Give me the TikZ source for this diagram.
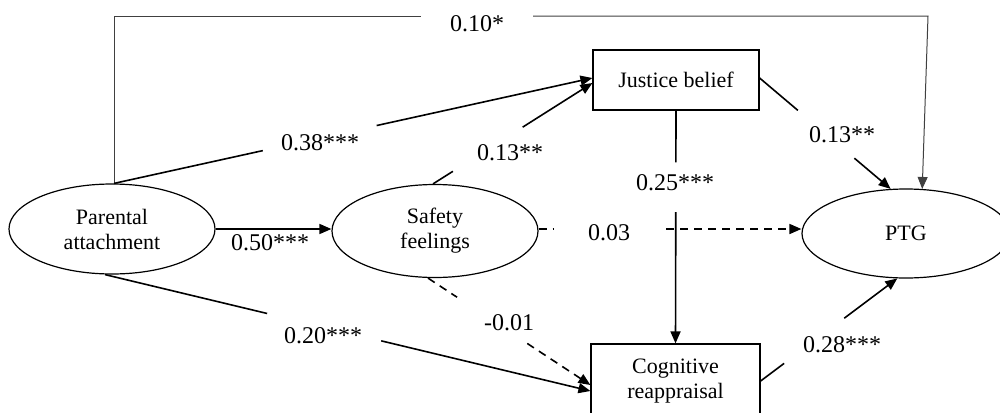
\documentclass[tikz,border=0pt]{standalone}
\usepackage{fontspec}
\setmainfont{Liberation Serif}
\usetikzlibrary{shapes.geometric,arrows.meta}
\begin{document}
\begin{tikzpicture}[x=0.5pt,y=-0.5pt,
  latent/.style={ellipse,draw,line width=0.6pt,inner sep=0pt,minimum width=103pt,minimum height=45pt,align=center,font=\fontsize{11}{12.5}\selectfont},
  obs/.style={rectangle,draw,line width=0.6pt,inner sep=0pt,align=center,font=\fontsize{11}{12.5}\selectfont},
  link/.style={line width=0.8pt},
  tip/.style={-{Triangle[length=6pt,width=5pt]}},
  arrowline/.style={link,tip},
  dsh/.style={dash pattern=on 4pt off 3pt},
  thinlink/.style={line width=0.5pt,draw=black!75},
  coef/.style={font=\fontsize{12}{14}\selectfont,inner sep=0pt}]
\useasboundingbox (0,0) rectangle (1000,412);

% nodes
\node[latent,minimum height=45pt] (PA) at (112,229) {Parental\\attachment};
\node[latent,minimum height=46.5pt] (SF) at (435,231) {Safety\\feelings};
\node[latent,minimum width=104pt,minimum height=44.5pt] (PTG) at (906,233.5) {PTG};
\node[obs,minimum width=83pt,minimum height=30pt] (JB) at (676,80) {Justice belief};
\node[obs,minimum width=84.5pt,minimum height=37pt] (CR) at (675.5,381) {Cognitive\\reappraisal};

% labels
\node[coef] (l10) at (477,24) {0.10*};
\node[coef] (l38) at (320,143) {0.38***};
\node[coef] (l13a) at (510,153) {0.13**};
\node[coef] (l50) at (270,243) {0.50***};
\node[coef] (l20) at (323,336) {0.20***};
\node[coef] (l01) at (509,323) {-0.01};
\node[coef] (l03) at (609,233) {0.03};
\node[coef] (l25) at (675,183) {0.25***};
\node[coef] (l13b) at (842,135) {0.13**};
\node[coef] (l28) at (842,345) {0.28***};

% 0.10* : Parental attachment -> PTG (over the top)
\coordinate (pa1) at ([xshift=1pt]PA.north);
\coordinate (t1) at (421,16);
\coordinate (t2) at (533,16);
\coordinate (t3) at (928,16);
\draw[thinlink] (pa1) |- (t1);
\draw[thinlink,tip] (t2) -- (t3) -- (PTG.70);

% 0.38*** : PA -> JB
\coordinate (jb1) at ([yshift=1pt]JB.west);
\path (pa1) -- (jb1) coordinate[pos=0.311] (a1) coordinate[pos=0.549] (a2);
\draw[link] (pa1) -- (a1);
\draw[arrowline] (a2) -- (jb1);

% 0.13** : SF -> JB
\coordinate (sf1) at ([xshift=-1pt]SF.north);
\coordinate (jb2) at ([yshift=-1.5pt]JB.west);
\path (sf1) -- (jb2) coordinate[pos=0.125] (b1) coordinate[pos=0.5625] (b2);
\draw[link] (sf1) -- (b1);
\draw[arrowline] (b2) -- (jb2);

% 0.50*** : PA -> SF
\draw[arrowline] (PA.east) -- (PA.east -| SF.west);

% 0.20*** : PA -> CR
\coordinate (pa2) at ([xshift=-3.5pt]PA.south);
\coordinate (cr1) at ([yshift=-5pt]CR.west);
\path (pa2) -- (cr1) coordinate[pos=0.334] (c1) coordinate[pos=0.569] (c2);
\draw[link] (pa2) -- (c1);
\draw[arrowline] (c2) -- (cr1);

% -0.01 : SF -> CR (dashed)
\coordinate (sf2) at ([xshift=-3.5pt]SF.south);
\coordinate (cr2) at ([yshift=-2pt]CR.west);
\path (sf2) -- (cr2) coordinate[pos=0.179] (d1) coordinate[pos=0.611] (d2);
\draw[link,dsh] (sf2) -- (d1);
\draw[arrowline,dsh] (d2) -- (cr2);

% 0.03 : SF -> PTG (dashed)
\coordinate (sf3) at ([yshift=1pt]SF.east);
\coordinate (ptg1) at (sf3 -| PTG.west);
\path (sf3) -- (ptg1) coordinate[pos=0.057] (e1) coordinate[pos=0.485] (e2);
\draw[link,dsh] (sf3) -- (e1);
\draw[arrowline,dsh] (e2) -- (ptg1);

% 0.25*** : JB -> CR
\path (JB.south) -- (CR.north) coordinate[pos=0.222] (f1) coordinate[pos=0.436] (f2);
\draw[link] (JB.south) -- (f1);
\draw[arrowline] (f2) -- (CR.north);

% 0.13** : JB -> PTG
\coordinate (jb3) at ([yshift=1pt]JB.east);
\path (jb3) -- (PTG.109) coordinate[pos=0.292] (g1) coordinate[pos=0.723] (g2);
\draw[link] (jb3) -- (g1);
\draw[arrowline] (g2) -- (PTG.109);

% 0.28*** : CR -> PTG
\path (CR.east) -- (PTG.-101) coordinate[pos=0.172] (h1) coordinate[pos=0.612] (h2);
\draw[link] (CR.east) -- (h1);
\draw[arrowline] (h2) -- (PTG.-101);
\end{tikzpicture}
\end{document}
